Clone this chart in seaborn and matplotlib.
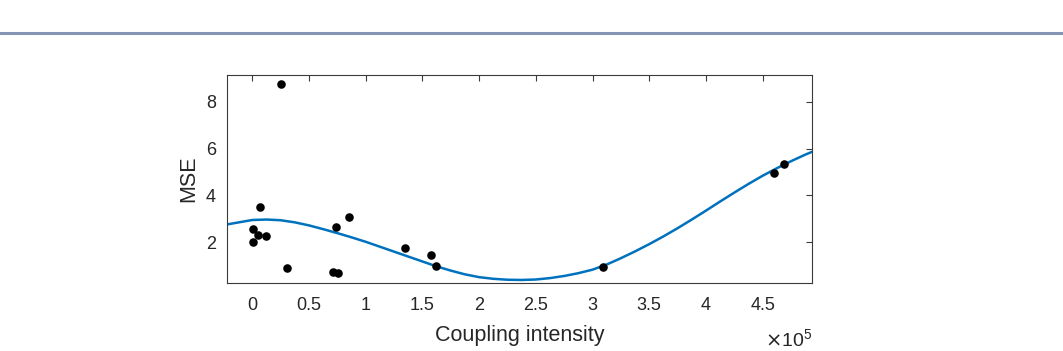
import numpy as np
import pandas as pd
import matplotlib
matplotlib.use("Agg")
import matplotlib.pyplot as plt
import seaborn as sns
from matplotlib.lines import Line2D

# measured points (coupling intensity in units of 1e5, MSE)
coupling = [0.256, 0.003, 0.01, 0.053, 0.123, 0.068, 0.31, 0.71, 0.76, 0.74,
            0.85, 1.35, 1.58, 1.62, 3.09, 4.60, 4.69]
mse = [8.75, 2.57, 2.00, 2.33, 2.26, 3.50, 0.90, 0.73, 0.67, 2.63,
       3.07, 1.76, 1.44, 0.97, 0.93, 4.96, 5.36]

# fitted curve
fit_x = [-0.223, 0.0, 0.125, 0.25, 0.375, 0.5, 0.625, 0.75, 0.875, 1.0, 1.125,
         1.25, 1.375, 1.5, 1.625, 1.75, 1.875, 2.0, 2.125, 2.25, 2.375, 2.5,
         2.625, 2.75, 2.875, 3.0, 3.125, 3.25, 3.375, 3.5, 3.625, 3.75, 3.875,
         4.0, 4.125, 4.25, 4.375, 4.5, 4.625, 4.75, 4.875, 4.935]
fit_y = [2.76, 2.95, 2.97, 2.94, 2.85, 2.72, 2.56, 2.39, 2.21, 2.02, 1.81,
         1.60, 1.39, 1.18, 0.97, 0.79, 0.63, 0.51, 0.44, 0.40, 0.39, 0.41,
         0.47, 0.56, 0.68, 0.83, 1.05, 1.32, 1.61, 1.92, 2.25, 2.60, 2.97,
         3.35, 3.74, 4.12, 4.49, 4.84, 5.16, 5.46, 5.74, 5.86]

df = pd.DataFrame({"coupling": coupling, "mse": mse})
fit = pd.DataFrame({"x": fit_x, "y": fit_y})

sns.set_style("white")
plt.rcParams["font.family"] = ["Liberation Sans", "DejaVu Sans"]
txt = "#262626"

fig = plt.figure(figsize=(10.63, 3.51), dpi=100)
ax = fig.add_axes([0.2135, 0.1937, 0.5504, 0.5926])

# decorative rule across the top of the page
fig.add_artist(Line2D([0, 1], [0.905, 0.905], transform=fig.transFigure,
                      color="#8496b4", linewidth=2.2))

sns.lineplot(data=fit, x="x", y="y", ax=ax, color="#0072BD", linewidth=1.8,
             sort=False)
sns.scatterplot(data=df, x="coupling", y="mse", ax=ax, color="black",
                s=38, edgecolor="black", linewidth=0, zorder=3)

ax.set_xlim(-0.223, 4.935)
ax.set_ylim(0.26, 9.14)
ax.set_xticks([0, 0.5, 1, 1.5, 2, 2.5, 3, 3.5, 4, 4.5])
ax.set_xticklabels(["0", "0.5", "1", "1.5", "2", "2.5", "3", "3.5", "4", "4.5"])
ax.set_yticks([2, 4, 6, 8])

for s in ax.spines.values():
    s.set_color("#3a3a3a")
    s.set_linewidth(0.8)
ax.tick_params(direction="in", length=4, width=0.8, color="#3a3a3a",
               top=True, right=True, labelsize=13, labelcolor=txt, pad=10)
ax.tick_params(axis="y", pad=8)

ax.set_xlabel("Coupling intensity", fontsize=15.5, color=txt, labelpad=8)
ax.set_ylabel("MSE", fontsize=15.5, color=txt, labelpad=5)
ax.text(1.0, -0.27, r"$\times\mathregular{10^5}$", transform=ax.transAxes,
        ha="right", va="center", fontsize=14, color=txt)

fig.savefig("out.png", dpi=100, facecolor="white")
